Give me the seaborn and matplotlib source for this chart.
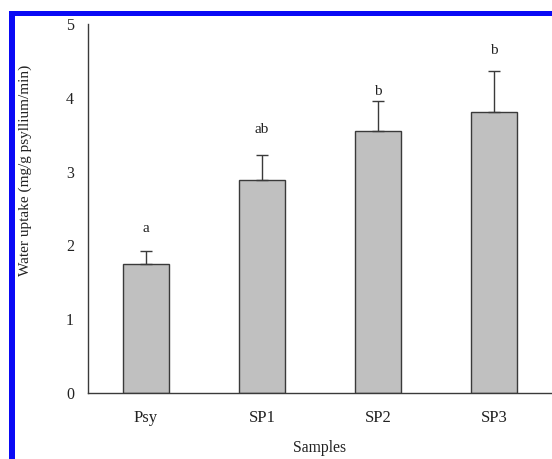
import numpy as np
import matplotlib.pyplot as plt
import pandas as pd
import seaborn as sns
from matplotlib.patches import Rectangle

# Data
samples = ['Psy', 'SP1', 'SP2', 'SP3']
uptake = [1.75, 2.88, 3.55, 3.81]
err_up = [0.17, 0.34, 0.41, 0.55]
letters = ['a', 'ab', 'b', 'b']
letter_y = [2.18, 3.52, 4.04, 4.59]

df = pd.DataFrame({'Sample': samples, 'Uptake': uptake})

sns.set_style('white')
plt.rcParams['font.family'] = ['Liberation Serif', 'DejaVu Serif']

fig = plt.figure(figsize=(5.52, 4.59), dpi=100)
ax = fig.add_axes([0.1594, 0.1438, 0.8406, 0.8039])

sns.barplot(data=df, x='Sample', y='Uptake', color='#c0c0c0', saturation=1,
            width=0.4, edgecolor='#3a3a3a', linewidth=1.0, errorbar=None, ax=ax)

# one-sided error bars and significance letters
centers = [p.get_x() + p.get_width() / 2 for p in ax.patches]
ax.errorbar(centers, uptake, yerr=[np.zeros(len(err_up)), err_up], fmt='none',
            ecolor='#3a3a3a', elinewidth=1.0, capsize=4, capthick=1.0)
for xc, lab, ly in zip(centers, letters, letter_y):
    ax.text(xc, ly, lab, ha='center', va='baseline', fontsize=11, color='#222222')

ax.set_xlim(-0.5, 3.5)
ax.set_ylim(0, 5)
ax.set_yticks([0, 1, 2, 3, 4, 5])
ax.set_xlabel('Samples', fontsize=11.3, color='#222222')
ax.set_ylabel('Water uptake (mg/g psyllium/min)', fontsize=11, color='#222222')
ax.xaxis.set_label_coords(0.5, -0.128)
ax.yaxis.set_label_coords(-0.12, 0.604)
ax.tick_params(axis='y', direction='in', length=5, width=1, color='#3a3a3a',
               pad=10, labelsize=11.5, labelcolor='#222222')
ax.tick_params(axis='x', length=0, pad=12, labelsize=12, labelcolor='#222222')
sns.despine(ax=ax)
for s in ['left', 'bottom']:
    ax.spines[s].set_color('#3a3a3a')
    ax.spines[s].set_linewidth(1.0)

# blue frame at top and left of the picture
W, H = 552, 459
fig.add_artist(Rectangle((9 / W, 1 - 16 / H), 1, 5 / H, transform=fig.transFigure,
                         color='#0a0af5', lw=0))
fig.add_artist(Rectangle((9 / W, 0), 6 / W, 1 - 11 / H, transform=fig.transFigure,
                         color='#0a0af5', lw=0))

fig.savefig('out.png', dpi=100)
